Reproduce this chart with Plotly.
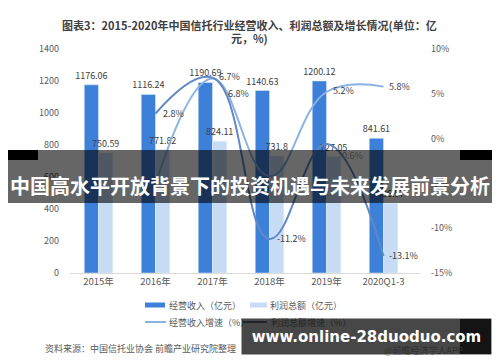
import plotly.graph_objects as go

# ---------------- data ----------------
categories = ["2015年", "2016年", "2017年", "2018年", "2019年", "2020Q1-3"]
income = [1176.06, 1116.24, 1190.69, 1140.63, 1200.12, 841.61]
profit = [750.59, 771.82, 824.11, 731.8, 727.05, 436.57]
income_growth = [None, -5.1, 6.7, -4.2, 5.2, 5.8]
profit_growth = [None, 2.8, 6.8, -11.2, -0.6, -13.1]
left_ticks = [0, 200, 400, 600, 800, 1000, 1200, 1400]
right_ticks = [-15, -10, -5, 0, 5, 10]

# ---------------- layout helpers (pixel -> paper) ----------------
W, H = 500, 362
L, R, T, B = 70, 420, 49, 273


def px(x):
    return (x - L) / (R - L)


def py(y):
    return (B - y) / (B - T)


C_INC = "#3d80d9"
C_PRO = "#c6dcf5"
C_INC_G = "#8ab2e3"
C_PRO_G = "#6288c6"
TXT = "#595959"
FONT = "Noto Sans CJK SC"

fig = go.Figure()
fig.add_trace(go.Bar(x=categories, y=income, name="经营收入（亿元）", marker_color=C_INC,
                     text=[str(v) for v in income], textposition="outside", constraintext="none",
                     textfont=dict(size=9, color="#404040", family=FONT), cliponaxis=False,
                     showlegend=False))
fig.add_trace(go.Bar(x=categories, y=profit, name="利润总额（亿元）", marker_color=C_PRO,
                     text=[str(v) for v in profit], textposition="outside", constraintext="none",
                     textfont=dict(size=9, color="#404040", family=FONT), cliponaxis=False,
                     showlegend=False))
fig.add_trace(go.Scatter(x=categories, y=income_growth, name="经营收入增速（%）", yaxis="y2",
                         mode="lines", line=dict(color=C_INC_G, width=2, shape="spline", smoothing=1.2),
                         showlegend=False))
fig.add_trace(go.Scatter(x=categories, y=profit_growth, name="利润总额增速（%）", yaxis="y2",
                         mode="lines", line=dict(color=C_PRO_G, width=2, shape="spline", smoothing=1.2),
                         showlegend=False))

annotations = []
shapes = []

# growth labels (offsets in pixels, styling only)
inc_off = {2: (17, -2), 4: (17, -2), 5: (16, 0)}
pro_off = {1: (18, 0), 2: (26, -16), 3: (22, 0), 4: (24, -12), 5: (20, 0)}
for idx, (dx, dy) in inc_off.items():
    annotations.append(dict(x=categories[idx], y=income_growth[idx], xref="x", yref="y2",
                            text=f"{income_growth[idx]}%", showarrow=False, xshift=dx, yshift=-dy,
                            font=dict(size=9, color="#404040", family=FONT)))
for idx, (dx, dy) in pro_off.items():
    annotations.append(dict(x=categories[idx], y=profit_growth[idx], xref="x", yref="y2",
                            text=f"{profit_growth[idx]}%", showarrow=False, xshift=dx, yshift=dy,
                            font=dict(size=9, color="#404040", family=FONT)))

# title
annotations.append(dict(x=px(250), y=py(15), xref="paper", yref="paper", showarrow=False,
                        text="<b>图表3：2015-2020年中国信托行业经营收入、利润总额及增长情况(单位：亿</b>",
                        font=dict(size=11, color="#404040", family=FONT)))
annotations.append(dict(x=px(249), y=py(28), xref="paper", yref="paper", showarrow=False,
                        text="<b>元，%)</b>", font=dict(size=11, color="#404040", family=FONT)))

# manual legend
leg_items = [
    ("rect", C_INC, 145, 165, 305, "经营收入（亿元）", 167),
    ("rect", C_PRO, 250, 267, 305, "利润总额（亿元）", 268),
    ("line", C_INC_G, 145, 166, 322, "经营收入增速（%）", 167),
    ("line", "#44546a", 243, 267, 322, "利润总额增速（%）", 269),
]
for kind, col, x0, x1, yc, label, tx in leg_items:
    if kind == "rect":
        shapes.append(dict(type="rect", xref="paper", yref="paper", x0=px(x0), x1=px(x1),
                           y0=py(yc + 2.5), y1=py(yc - 2.5), fillcolor=col, line=dict(width=0)))
    else:
        shapes.append(dict(type="line", xref="paper", yref="paper", x0=px(x0), x1=px(x1),
                           y0=py(yc), y1=py(yc), line=dict(color=col, width=2)))
    annotations.append(dict(x=px(tx), y=py(yc), xref="paper", yref="paper", xanchor="left",
                            yanchor="middle", showarrow=False, text=label,
                            font=dict(size=9, color=TXT, family=FONT)))

# source
annotations.append(dict(x=px(43), y=py(348), xref="paper", yref="paper", xanchor="left",
                        yanchor="middle", showarrow=False, text="资料来源：中国信托业协会 前瞻产业研究院整理",
                        font=dict(size=9, color=TXT, family=FONT)))
annotations.append(dict(x=px(382), y=py(350), xref="paper", yref="paper", xanchor="left",
                        yanchor="middle", showarrow=False, text="@前瞻经济学人APP",
                        font=dict(size=9, color="#8a8a8a", family=FONT)))

# middle overlay banner
shapes.append(dict(type="rect", xref="paper", yref="paper", layer="above",
                   x0=px(8), x1=px(492), y0=py(203), y1=py(150),
                   fillcolor="rgba(0,0,0,0.6)", line=dict(width=0)))
shapes.append(dict(type="rect", xref="paper", yref="paper", layer="above",
                   x0=px(8), x1=px(38), y0=py(160), y1=py(150),
                   fillcolor="black", line=dict(width=0)))
shapes.append(dict(type="rect", xref="paper", yref="paper", layer="above",
                   x0=px(460), x1=px(492), y0=py(160), y1=py(150),
                   fillcolor="black", line=dict(width=0)))
annotations.append(dict(x=px(250), y=py(185), xref="paper", yref="paper", showarrow=False,
                        text="<b>中国高水平开放背景下的投资机遇与未来发展前景分析</b>",
                        font=dict(size=20, color="white", family=FONT)))

# bottom website banner
shapes.append(dict(type="rect", xref="paper", yref="paper", x0=px(460), x1=px(491),
                   y0=py(354), y1=py(319), fillcolor="black", line=dict(width=0)))
annotations.append(dict(x=px(366.5), y=py(336.5), xref="paper", yref="paper", showarrow=False,
                        xanchor="center", yanchor="middle", width=249, height=35,
                        bgcolor="rgba(25,25,25,0.8)", borderpad=0,
                        text="<b>www.online-28duoduo.com</b>",
                        font=dict(size=15, color="white", family="DejaVu Sans")))

fig.update_layout(
    width=W, height=H,
    margin=dict(l=L, r=W - R, t=T, b=H - B),
    paper_bgcolor="white", plot_bgcolor="white",
    barmode="group", bargap=0.5, bargroupgap=0,
    font=dict(family=FONT, size=9, color=TXT),
    xaxis=dict(showline=True, linecolor="#d9d9d9", linewidth=1, ticks="", showgrid=False,
               tickfont=dict(size=9.5, color=TXT, family=FONT)),
    yaxis=dict(range=[0, 1400], tickvals=left_ticks, showgrid=False, zeroline=False,
               showline=False, ticks="", ticklabelstandoff=10,
               tickfont=dict(size=9, color=TXT, family=FONT)),
    yaxis2=dict(range=[-15, 10], tickvals=right_ticks, ticktext=[f"{v}%" for v in right_ticks],
                overlaying="y", side="right", showgrid=False, zeroline=False, showline=False,
                ticks="", ticklabelstandoff=10,
                tickfont=dict(size=9, color=TXT, family=FONT)),
    shapes=shapes, annotations=annotations,
)

fig.write_html("out.html")
